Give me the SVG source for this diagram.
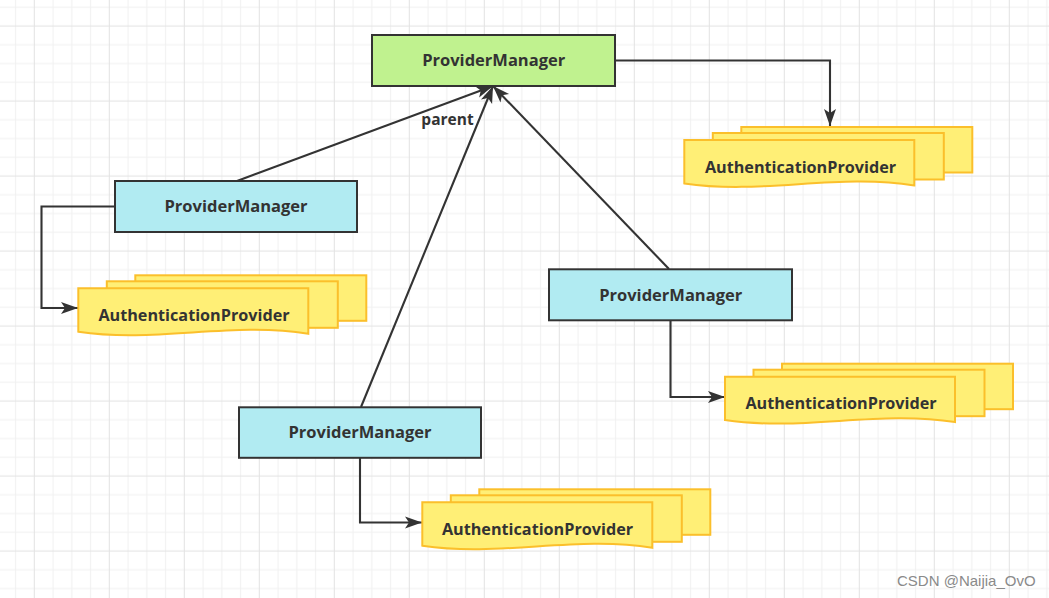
<svg xmlns="http://www.w3.org/2000/svg" width="1049" height="598" viewBox="0 0 1049 598">
<style>
.pm{stroke:#333;stroke-width:2}
.pmg{fill:#c0f28f}
.pmc{fill:#b1ebf2}
.doc{fill:#ffef76;stroke:#fbbf2b;stroke-width:2}
.t{font-family:"Open Sans","DejaVu Sans",sans-serif;font-weight:bold;font-size:16.5px;fill:#333;text-anchor:middle}
.ta{font-size:16.2px}
.lbl{font-family:"Open Sans","DejaVu Sans",sans-serif;font-weight:bold;font-size:15.5px;fill:#333;text-anchor:middle}
.e{fill:none;stroke:#333;stroke-width:2.1}
.wm{font-family:"Liberation Sans",Arial,sans-serif;font-size:15px;fill:#8a8a8a}
</style>
<defs>
<pattern id="grid" patternUnits="userSpaceOnUse" x="24.925" y="16.625" width="75" height="75">
<rect width="75" height="75" fill="#fff"/>
<path d="M28.125 0V75M46.875 0V75M65.625 0V75M0 28.125H75M0 46.875H75M0 65.625H75" stroke="#f1f1f1" stroke-width="1"/>
<path d="M9.375 0V75M0 9.375H75" stroke="#e3e3e3" stroke-width="1"/>
</pattern>
<marker id="arr" markerUnits="userSpaceOnUse" viewBox="-18 -7 19 14" refX="0" refY="0" markerWidth="19" markerHeight="14" orient="auto">
<path d="M0,0 L-17,-6 L-13,0 L-17,6 Z" fill="#333"/>
</marker>
<g id="ap">
<rect class="doc" x="57" y="-13" width="231" height="45.5"/>
<rect class="doc" x="28.5" y="-7" width="231" height="46.5"/>
<path class="doc" d="M0,0 H230 V45.4 C154,33 77,55 0,43.4 Z"/>
</g>
</defs>
<rect width="1049" height="598" fill="url(#grid)"/>

<g id="connectors">
<path class="e" d="M615,60.5 H830 V126" marker-end="url(#arr)"/>
<path class="e" d="M115,206.5 H41.5 V308 H78" marker-end="url(#arr)"/>
<path class="e" d="M360,458 V522.5 H422" marker-end="url(#arr)"/>
<path class="e" d="M670.5,320 V397 H725" marker-end="url(#arr)"/>
<path class="e" d="M237,181 L493,86" marker-end="url(#arr)"/>
<path class="e" d="M361,407 L493,86" marker-end="url(#arr)"/>
<path class="e" d="M669,269 L493,86" marker-end="url(#arr)"/>
<text class="lbl" x="447.5" y="124.5">parent</text>
</g>

<g id="pm-top">
<rect class="pm pmg" x="372" y="35" width="243" height="51"/>
<text class="t" x="493.7" y="66.2">ProviderManager</text>
</g>
<g id="pm-left">
<rect class="pm pmc" x="115" y="181" width="242" height="51"/>
<text class="t" x="236" y="212.2">ProviderManager</text>
</g>
<g id="pm-bottom">
<rect class="pm pmc" x="239" y="407.3" width="242" height="50.5"/>
<text class="t" x="360" y="438.4">ProviderManager</text>
</g>
<g id="pm-right">
<rect class="pm pmc" x="549" y="269.3" width="243" height="51"/>
<text class="t" x="670.7" y="300.6">ProviderManager</text>
</g>

<g id="ap-topright">
<use href="#ap" x="684.3" y="140"/>
<text class="t ta" x="800.5" y="172.5">AuthenticationProvider</text>
</g>
<g id="ap-left">
<use href="#ap" x="78.3" y="288.3"/>
<text class="t ta" x="194" y="320.8">AuthenticationProvider</text>
</g>
<g id="ap-right">
<use href="#ap" x="725" y="376.7"/>
<text class="t ta" x="841" y="409.2">AuthenticationProvider</text>
</g>
<g id="ap-bottom">
<use href="#ap" x="422.3" y="502.3"/>
<text class="t ta" x="537.5" y="534.7">AuthenticationProvider</text>
</g>

<text class="wm" x="897" y="586">CSDN @Naijia_OvO</text>
</svg>
